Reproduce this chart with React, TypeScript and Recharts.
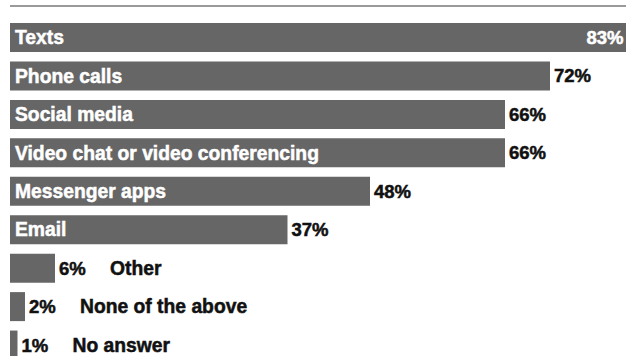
import React from "react";
import { BarChart, Bar, XAxis, YAxis, LabelList } from "recharts";

const categories = [
  "Texts",
  "Phone calls",
  "Social media",
  "Video chat or video conferencing",
  "Messenger apps",
  "Email",
  "Other",
  "None of the above",
  "No answer",
];
const values = [83, 72, 66, 66, 48, 37, 6, 2, 1];
const valueInside = [true, false, false, false, false, false, false, false, false];
const nameInside = [true, true, true, true, true, true, false, false, false];

const data = categories.map((name, i) => ({ name, value: values[i] }));

const FONT = "'Liberation Sans', Arial, sans-serif";

const renderLabel = (props: any) => {
  const { x, y, width, height, index } = props;
  const cy = y + height / 2;
  const v = values[index];
  const name = categories[index];
  const nodes: React.ReactNode[] = [];
  const nameColor = nameInside[index] ? "#fff" : "#111";
  nodes.push(
    <text
      key="n"
      x={nameInside[index] ? x + 5 : x + width + 55}
      y={cy}
      dy="0.35em"
      fill={nameColor}
      stroke={nameColor}
      strokeWidth={0.5}
      fontFamily={FONT}
      fontWeight="bold"
      fontSize={19.3}
      textAnchor="start"
    >
      {name}
    </text>
  );
  const valColor = valueInside[index] ? "#fff" : "#111";
  nodes.push(
    <text
      key="v"
      x={valueInside[index] ? x + width - 9 : x + width + 4}
      y={cy}
      dy="0.35em"
      fill={valColor}
      stroke={valColor}
      strokeWidth={0.5}
      fontFamily={FONT}
      fontWeight="bold"
      fontSize={18.5}
      textAnchor={valueInside[index] ? "end" : "start"}
    >
      {v + "%"}
    </text>
  );
  return <g>{nodes}</g>;
};

export default function App() {
  return (
    <div style={{ position: "absolute", left: 0, top: 0, width: 626, height: 356, overflow: "hidden", background: "#fff" }}>
      <div style={{ position: "absolute", left: 10, right: 0, top: 5, height: 2, background: "#9a9a9a" }} />
      <BarChart
        width={760}
        height={370}
        data={data}
        layout="vertical"
        margin={{ top: 18, right: 0, bottom: 6, left: 10 }}
      >
        <XAxis type="number" domain={[0, 100]} hide />
        <YAxis type="category" dataKey="name" hide />
        <Bar dataKey="value" fill="#666666" barSize={29} isAnimationActive={false}>
          <LabelList dataKey="value" content={renderLabel} />
        </Bar>
      </BarChart>
    </div>
  );
}
